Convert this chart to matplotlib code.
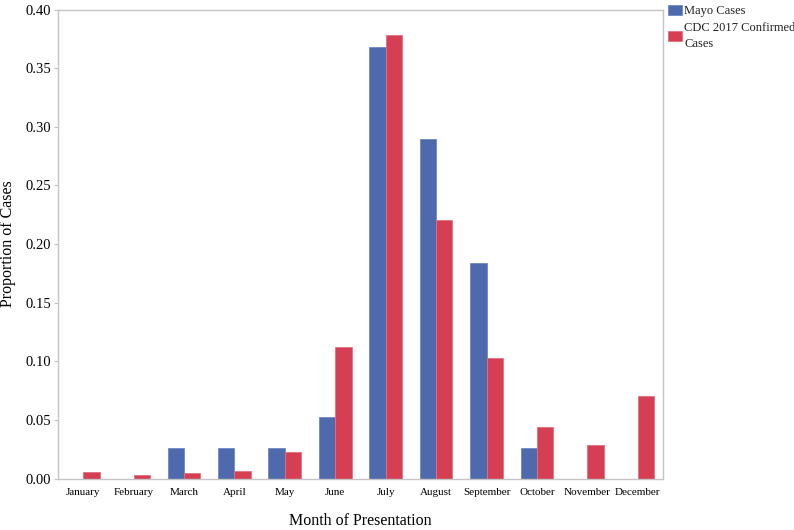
import matplotlib.pyplot as plt
import numpy as np

# ─── DATA ──────────────────────────────────────────────────────────────────
MONTHS = ["January", "February", "March", "April", "May", "June", "July",
          "August", "September", "October", "November", "December"]
MAYO = [0.0, 0.0, 0.0263, 0.0263, 0.0263, 0.0526, 0.3684,
        0.2895, 0.1842, 0.0263, 0.0, 0.0]
CDC = [0.0053, 0.0030, 0.0047, 0.0061, 0.0229, 0.1124, 0.3785,
       0.2205, 0.1030, 0.0437, 0.0286, 0.0706]
SERIES_LABELS = ["Mayo Cases", "CDC 2017 Confirmed\nCases"]

# ─── STYLE ─────────────────────────────────────────────────────────────────
BLUE = "#4F69AD"
RED = "#D63F53"
SPINE = "#C4C4C4"

plt.rcParams.update({
    "font.family": ["Liberation Serif", "DejaVu Serif"],
    "text.color": "#222222",
})

fig = plt.figure(figsize=(7.94, 5.30), dpi=100)
ax = fig.add_axes([0.073, 0.097, 0.762, 0.885])

x = np.arange(len(MONTHS))
w = 0.325
b1 = ax.bar(x - w / 2, MAYO, width=w, color=BLUE, edgecolor="#7088C4",
            linewidth=0.6, label=SERIES_LABELS[0])
b2 = ax.bar(x + w / 2, CDC, width=w, color=RED, edgecolor="#E27080",
            linewidth=0.6, label=SERIES_LABELS[1])

ax.set_xlim(-0.5, 11.5)
ax.set_ylim(0, 0.40)
yt = np.arange(0, 0.401, 0.05)
ax.set_yticks(yt)
ax.set_yticklabels([f"{v:.2f}" for v in yt], fontsize=10.5)
ax.set_xticks(x)
ax.set_xticklabels(MONTHS, fontsize=8)
ax.tick_params(axis="x", length=0, pad=7)
ax.tick_params(axis="y", length=3, width=0.8, color=SPINE, pad=2)

for s in ax.spines.values():
    s.set_color(SPINE)
    s.set_linewidth(1.0)

ax.set_ylabel("Proportion of Cases", fontsize=11.5)
ax.yaxis.set_label_coords(-0.07, 0.5)
ax.set_xlabel("Month of Presentation", fontsize=11.5)
ax.xaxis.set_label_coords(0.5, -0.073)

leg = fig.legend(handles=[b1, b2], loc="upper left", bbox_to_anchor=(0.838, 0.995),
                 frameon=False, fontsize=9, handlelength=1.1, handleheight=0.8,
                 handletextpad=0.2, labelspacing=0.35, borderaxespad=0, borderpad=0.2)
for t in leg.get_texts():
    t.set_linespacing(1.5)

fig.savefig("out.png", dpi=100)
